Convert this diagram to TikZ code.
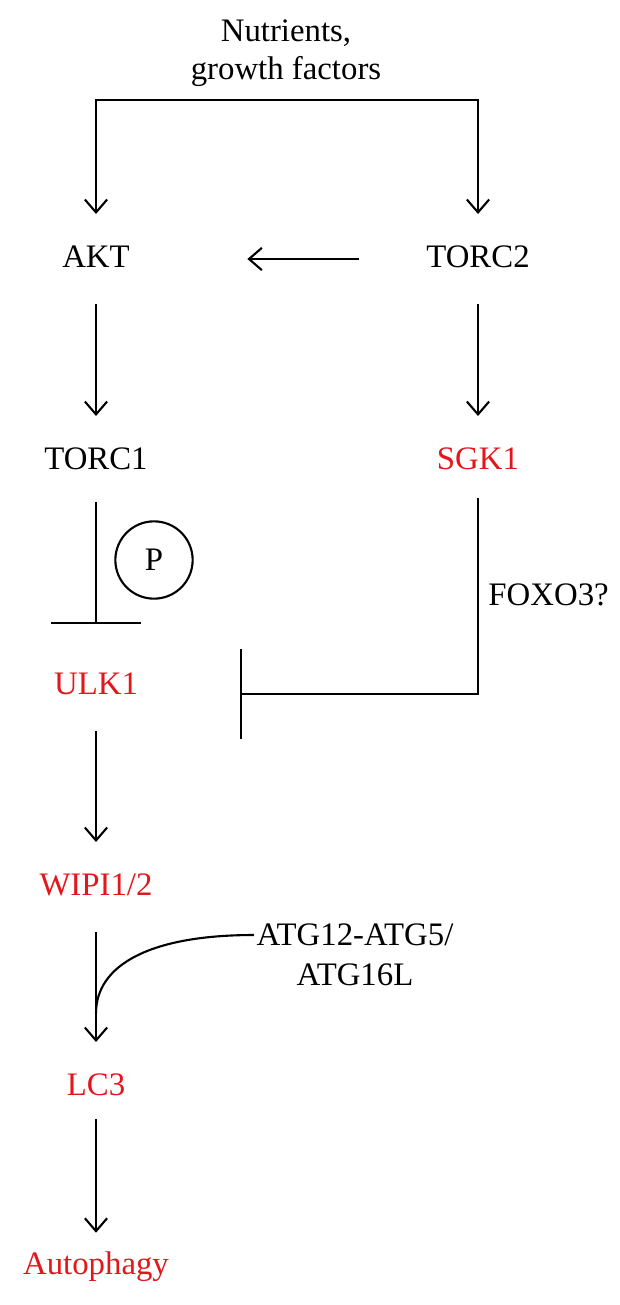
\documentclass[tikz,border=0pt]{standalone}
\usepackage{fontspec}
\setmainfont{Liberation Serif}
\usetikzlibrary{arrows.meta, calc}
\definecolor{geneRed}{HTML}{E3161B}

\begin{document}
\begin{tikzpicture}[
    x=0.015cm, y=-0.015cm,
    gene/.style={inner sep=0pt, minimum height=38pt, text height=10pt, text depth=3pt, font=\fontsize{14}{16}\selectfont},
    note/.style={inner sep=1pt, align=center, font=\fontsize{14}{16}\selectfont},
    arrow/.style={-{Straight Barb[length=5.5pt, width=9.5pt]}, line width=0.9pt},
    inhibit/.style={-{Bar[width=38pt]}, line width=0.9pt},
]
    \useasboundingbox (0,0) rectangle (619,1305);

    \node[note] (nutrients) at (286,53) {Nutrients,\\growth factors};
    \coordinate (split) at (286,100);
    \node[gene] (akt) at (96,259) {AKT};
    \node[gene] (torc2) at (478,259) {TORC2};
    \node[gene] (torc1) at (96,461) {TORC1};
    \node[gene, text=geneRed] (sgk1) at (478,461) {SGK1};
    \node[gene, text=geneRed] (ulk1) at (96,686) {ULK1};
    \node[gene, text=geneRed] (wipi) at (96,887) {WIPI1/2};
    \node[gene, text=geneRed] (lc3) at (96,1087) {LC3};
    \node[gene, text=geneRed] (autophagy) at (96,1266) {Autophagy};
    \node[circle, draw, line width=0.9pt, minimum size=33pt, inner sep=0pt, font=\fontsize{14}{16}\selectfont] (phos) at (154,560) {P};
    \node[note, anchor=west, inner sep=0pt] (foxo3) at (488,595) {FOXO3?};
    \node[note] (atg12) at (355,935) {ATG12-ATG5/};
    \node[note] (atg16) at (355,975) {ATG16L};
    \coordinate (ulkbar) at (240,694);
    \coordinate (merge) at ($(wipi.south)!0.74!(lc3.north)$);

    \draw[arrow] (split) -| (akt.north);
    \draw[arrow] (split) -| (torc2.north);
    \draw[arrow, shorten <=51pt, shorten >=64.6pt] (torc2.center) -- (akt.center);
    \draw[arrow] (akt) -- (torc1);
    \draw[arrow] (torc2) -- (sgk1);
    \draw[inhibit, shorten <=-1.6pt, shorten >=7.4pt] (torc1) -- (ulk1);
    \draw[inhibit, shorten <=-3.3pt] (sgk1.south) |- (ulkbar);
    \draw[arrow] (ulk1) -- (wipi);
    \draw[arrow] (wipi) -- (lc3);
    \draw[line width=0.9pt] (atg12.west) .. controls (150,935) and (96,965) .. (merge);
    \draw[arrow, shorten <=-5.4pt, shorten >=-5pt] (lc3) -- (autophagy);
\end{tikzpicture}
\end{document}
